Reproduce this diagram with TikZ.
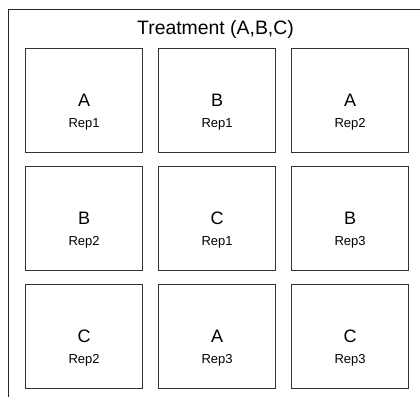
\documentclass[tikz,border=0pt]{standalone}
\usepackage{fontspec}
\setmainfont{Liberation Sans}
\begin{document}
\begin{tikzpicture}[x=1pt,y=-1pt,
  plot/.style={draw=black!80, line width=1.2pt, minimum width=117pt, minimum height=104pt, inner sep=0pt, anchor=north west},
  trt/.style={font=\fontsize{18}{20}\selectfont, inner sep=0pt, anchor=base},
  rep/.style={font=\fontsize{13}{14}\selectfont, inner sep=0pt, anchor=base}]
\useasboundingbox (0,0) rectangle (420,396);
\begin{scope}
\clip (0,0) rectangle (420,396);
% field frame (runs past the page edges)
\draw[black!85, line width=1pt] (8,420) -- (8,10) -- (440,10);
\end{scope}
\node[font=\fontsize{19.4}{20}\selectfont, inner sep=0pt, anchor=base] (title) at (215.5,35) {Treatment (A,B,C)};
% plots
\foreach \name/\x/\y/\t/\r in {
  p11/25/48/A/Rep1, p12/158/48/B/Rep1, p13/291/48/A/Rep2,
  p21/25/166/B/Rep2, p22/158/166/C/Rep1, p23/291/166/B/Rep3,
  p31/25/284/C/Rep2, p32/158/284/A/Rep3, p33/291/284/C/Rep3} {
  \node[plot] (\name) at (\x,\y) {};
  \node[trt] (\name t) at ([yshift=-5.7pt]\name.center) {\t};
  \node[rep] (\name r) at ([yshift=-26.7pt]\name.center) {\r};
}
\end{tikzpicture}
\end{document}
